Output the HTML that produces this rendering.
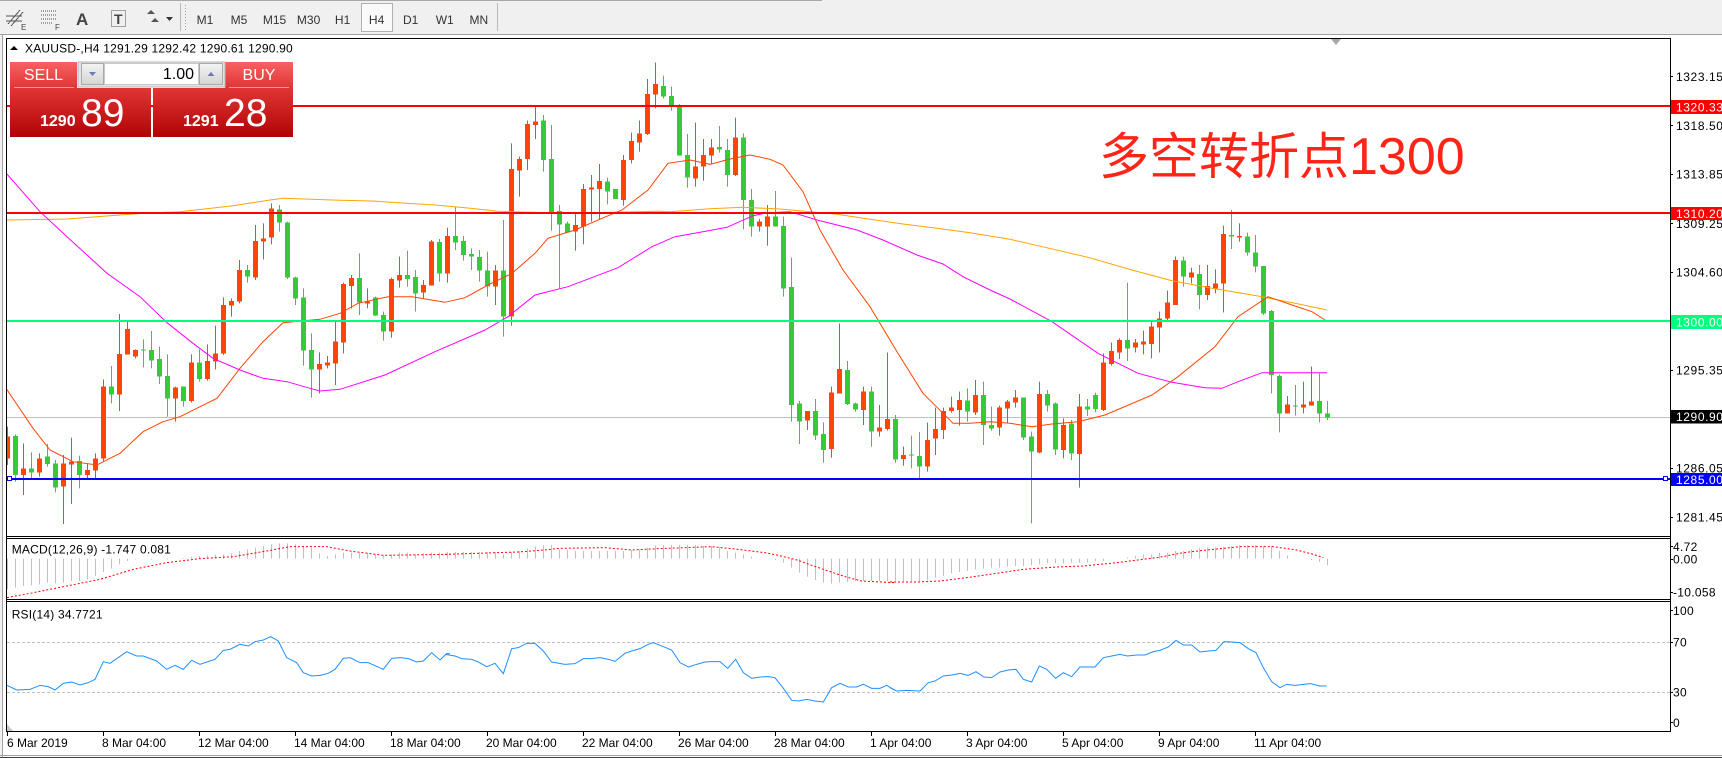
<!DOCTYPE html>
<html><head><meta charset="utf-8"><style>
html,body{margin:0;padding:0;background:#fff;}
svg{display:block;}
text{font-family:"Liberation Sans","Noto Sans CJK SC",sans-serif;}
</style></head><body>
<svg xmlns="http://www.w3.org/2000/svg" width="1722" height="758" viewBox="0 0 1722 758">
<defs>
<clipPath id="plot"><rect x="7" y="39" width="1663" height="497"/></clipPath>
<clipPath id="macd"><rect x="7" y="539" width="1663" height="60"/></clipPath>
<clipPath id="rsi"><rect x="7" y="602" width="1663" height="129"/></clipPath>
<linearGradient id="hdr" x1="0" y1="0" x2="0" y2="1"><stop offset="0" stop-color="#F86262"/><stop offset="1" stop-color="#DE3434"/></linearGradient>
<linearGradient id="big" x1="0" y1="0" x2="0" y2="1"><stop offset="0" stop-color="#E23636"/><stop offset="1" stop-color="#B00404"/></linearGradient>
<linearGradient id="btn" x1="0" y1="0" x2="0" y2="1"><stop offset="0" stop-color="#F4F4F4"/><stop offset="1" stop-color="#D4D4D4"/></linearGradient>
</defs>

<!-- toolbar -->
<rect x="0" y="0" width="1722" height="34" fill="#F0F0F0"/>
<rect x="0" y="0" width="822" height="1" fill="#A8A8A8"/>
<rect x="0" y="34" width="1722" height="1" fill="#A0A0A0"/>
<g stroke="#555" stroke-width="1" fill="none" shape-rendering="crispEdges">
<path d="M8 24L20 10M11 26L23 12M6 16H22M6 21H22"/>
<path d="M41 11H56M41 15H56M41 19H56M41 23H52" stroke-dasharray="1 1"/>
<rect x="111.5" y="10.5" width="14" height="16" stroke-dasharray="1 1"/>
<path d="M180.5 3V31" stroke="#B8B8B8"/>
<path d="M185.5 5V30" stroke="#A0A0A0" stroke-dasharray="1 2"/>
<path d="M497.5 3V31" stroke="#B8B8B8"/>
</g>
<text x="21" y="30" font-size="8" fill="#444">E</text>
<text x="55" y="30" font-size="8" fill="#444">F</text>
<text x="76" y="25" font-size="17" font-weight="bold" fill="#444">A</text>
<text x="114" y="24" font-size="14" font-weight="bold" fill="#444">T</text>
<path d="M147 14l4-4 4 4zM151 22l4-4 4 4zM155 26l4 -4" fill="#555"/>
<path d="M166 17h7l-3.5 4z" fill="#333"/>
<rect x="361.5" y="3.5" width="31" height="28" fill="#FAFAFA" stroke="#B0B0B0"/>
<g font-size="12" fill="#333" text-anchor="middle">
<text x="205" y="24">M1</text><text x="239" y="24">M5</text><text x="274.5" y="24">M15</text><text x="308.6" y="24">M30</text><text x="342.6" y="24">H1</text><text x="376.6" y="24">H4</text><text x="410.7" y="24">D1</text><text x="444.7" y="24">W1</text><text x="478.8" y="24">MN</text>
</g>

<!-- left window edge -->
<rect x="0" y="35" width="3" height="723" fill="#F0F0F0"/>
<rect x="2" y="35" width="1" height="723" fill="#A0A0A0"/>

<!-- RSI levels -->
<g stroke="#C0C0C0" stroke-width="1" stroke-dasharray="3 2" shape-rendering="crispEdges">
<path d="M7 642.5H1670M7 692.5H1670"/>
</g>

<!-- gray current price line -->
<rect x="7" y="417" width="1663" height="1" fill="#C0C0C0"/>

<!-- candles -->
<g clip-path="url(#plot)">
<g transform="translate(0,40) scale(1,0.333333)" fill="none" shape-rendering="crispEdges">
<path stroke="#FF4500" stroke-width="1" d="M7.5 1160V1275M23.5 1210V1365M39.5 1240V1310M63.5 1245V1452M71.5 1193V1392M87.5 1270V1320M95.5 1240V1315M103.5 1018V1265M119.5 822V1113M127.5 843V943M135.5 928V955M175.5 1040V1145M191.5 943V1088M207.5 913V1022M215.5 857V988M223.5 772V945M231.5 775V830M239.5 660V790M255.5 555V720M263.5 550V658M271.5 490V613M319.5 937V1060M327.5 948V985M335.5 845V1035M343.5 728V940M351.5 705V805M367.5 745V805M391.5 713V893M399.5 650V743M423.5 720V775M431.5 600V737M447.5 563V728M495.5 675V795M511.5 310V857M519.5 350V470M527.5 242V390M535.5 195V297M575.5 520V632M583.5 432V613M591.5 405V545M599.5 372V537M623.5 345V497M631.5 278V370M639.5 242V335M647.5 117V285M655.5 68V205M695.5 248V440M703.5 297V422M711.5 297V372M735.5 233V408M759.5 537V575M767.5 495V617M807.5 1113V1170M831.5 1040V1253M839.5 850V1060M863.5 1040V1155M879.5 1095V1190M887.5 938V1172M903.5 1220V1277M927.5 1148V1295M935.5 1103V1245M943.5 1103V1197M951.5 1070V1118M959.5 1055V1157M975.5 1020V1125M999.5 1097V1187M1007.5 1080V1150M1015.5 1050V1103M1039.5 1025V1240M1063.5 1135V1255M1079.5 1062V1343M1103.5 940V1113M1111.5 908V977M1119.5 895V957M1135.5 897V937M1143.5 872V943M1151.5 843V955M1159.5 815V937M1167.5 752V842M1175.5 650V795M1191.5 683V730M1207.5 675V780M1215.5 688V760M1223.5 557V817M1239.5 550V605M1287.5 1068V1120M1303.5 1025V1120M1311.5 980V1097"/>
<path stroke="#FF4500" stroke-width="5" d="M7.5 1190V1255M23.5 1285V1305M39.5 1255V1297M63.5 1270V1340M71.5 1265V1273M87.5 1290V1305M95.5 1255V1292M103.5 1040V1255M119.5 942V1063M127.5 867V943M135.5 930V950M175.5 1042V1075M191.5 967V1083M207.5 963V1017M215.5 940V965M223.5 795V940M231.5 783V797M239.5 690V785M255.5 603V713M263.5 595V605M271.5 505V593M319.5 972V988M327.5 968V977M335.5 905V970M343.5 732V907M351.5 714V738M367.5 785V790M391.5 717V875M399.5 705V722M423.5 735V758M431.5 605V737M447.5 588V700M495.5 692V740M511.5 387V830M519.5 357V392M527.5 252V357M535.5 245V255M575.5 555V575M583.5 447V560M591.5 443V448M599.5 423V447M623.5 360V480M631.5 303V360M639.5 280V308M647.5 162V282M655.5 132V163M695.5 380V415M703.5 345V380M711.5 323V347M735.5 293V405M759.5 545V560M767.5 530V560M807.5 1113V1142M831.5 1058V1227M839.5 987V1060M863.5 1055V1110M879.5 1162V1175M887.5 1137V1167M903.5 1245V1257M927.5 1200V1280M935.5 1167V1196M943.5 1113V1170M951.5 1103V1113M959.5 1080V1110M975.5 1065V1118M999.5 1103V1162M1007.5 1085V1105M1015.5 1073V1088M1039.5 1062V1237M1063.5 1155V1230M1079.5 1100V1242M1103.5 968V1110M1111.5 933V972M1119.5 900V937M1135.5 908V922M1143.5 905V913M1151.5 860V912M1159.5 835V862M1167.5 788V835M1175.5 660V795M1191.5 697V713M1207.5 738V765M1215.5 730V745M1223.5 582V730M1239.5 588V592M1287.5 1093V1120M1303.5 1093V1103M1311.5 1085V1097"/>
<path stroke="#32CD32" stroke-width="1" d="M15.5 1183V1325M31.5 1237V1320M47.5 1212V1280M55.5 1260V1357M79.5 1247V1345M111.5 978V1090M143.5 898V982M151.5 873V985M159.5 920V1032M167.5 943V1130M183.5 1040V1100M199.5 928V1025M247.5 675V728M279.5 495V575M287.5 545V717M295.5 710V795M303.5 745V977M311.5 880V1073M359.5 640V825M375.5 770V828M383.5 815V902M407.5 632V740M415.5 690V815M439.5 597V725M455.5 500V630M463.5 588V662M471.5 625V690M479.5 630V725M487.5 635V770M503.5 540V890M543.5 225V395M551.5 255V572M559.5 495V745M567.5 545V577M607.5 413V493M615.5 447V477M663.5 107V175M671.5 140V212M679.5 192V347M687.5 282V443M719.5 258V338M727.5 297V440M743.5 280V568M751.5 447V590M775.5 453V560M783.5 530V770M791.5 653V1145M799.5 1083V1212M815.5 1077V1200M823.5 1147V1268M847.5 963V1095M855.5 1088V1115M871.5 1040V1220M895.5 1125V1268M911.5 1187V1285M919.5 1176V1315M967.5 1045V1145M983.5 1025V1215M991.5 1100V1172M1023.5 1073V1200M1031.5 1175V1450M1047.5 1050V1115M1055.5 1087V1245M1071.5 1140V1260M1087.5 1077V1128M1095.5 1058V1117M1127.5 728V963M1183.5 650V740M1199.5 675V808M1231.5 510V627M1247.5 578V647M1255.5 585V697M1263.5 678V825M1271.5 810V1060M1279.5 1003V1177M1295.5 1035V1127M1319.5 1000V1147M1327.5 1083V1140"/>
<path stroke="#32CD32" stroke-width="5" d="M15.5 1188V1305M31.5 1285V1298M47.5 1250V1272M55.5 1270V1342M79.5 1263V1305M111.5 1040V1063M143.5 928V932M151.5 930V962M159.5 957V1010M167.5 1008V1075M183.5 1040V1083M199.5 967V1017M247.5 690V710M279.5 508V548M287.5 547V713M295.5 712V775M303.5 772V932M311.5 930V988M359.5 714V788M375.5 773V827M383.5 825V875M407.5 705V717M415.5 711V760M439.5 606V700M455.5 588V608M463.5 603V645M471.5 642V650M479.5 651V692M487.5 692V740M503.5 692V830M543.5 242V360M551.5 357V517M559.5 513V553M567.5 550V577M607.5 425V455M615.5 447V477M663.5 138V170M671.5 168V197M679.5 197V347M687.5 345V413M719.5 321V329M727.5 330V405M743.5 293V480M751.5 480V560M775.5 530V560M783.5 558V746M791.5 741V1095M799.5 1090V1145M815.5 1113V1187M823.5 1182V1230M847.5 990V1092M855.5 1090V1108M871.5 1055V1175M895.5 1137V1258M911.5 1244V1247M919.5 1248V1280M967.5 1082V1115M983.5 1065V1155M991.5 1155V1165M1023.5 1073V1192M1031.5 1190V1235M1047.5 1062V1097M1055.5 1090V1228M1071.5 1150V1240M1087.5 1100V1108M1095.5 1065V1107M1127.5 900V925M1183.5 662V710M1199.5 702V765M1231.5 585V590M1247.5 590V638M1255.5 637V680M1263.5 678V820M1271.5 813V1005M1279.5 1008V1120M1295.5 1097V1100M1319.5 1083V1120M1327.5 1120V1133"/>
</g>

<!-- moving averages -->
<g fill="none" stroke-width="1">
<polyline stroke="#FFA500" points="6,220 67,219 147,213 180,211.7 233,205.7 270,200 283,198.3 340,200.3 372,201 402,203 435,205 468,208 498,211.3 540,212.5 600,212.5 658,211.3 670,211.7 710,208.7 743,207.3 780,209 810,211.7 837,214.3 870,219.3 903,224 937,228.3 970,232.7 1010,239.3 1045,247.3 1088,257.3 1132,270 1172,280.7 1212,288.3 1258,296 1295,303.3 1327,310"/>
<polyline stroke="#FF00FF" points="6,173 40,211.7 67,236.7 107,273.3 140,296.7 167,322.7 193,343.3 213,358.3 240,370 263,378.3 287,381.7 310,388.3 320,391 340,389.3 385,375 435,351.7 485,330 508,316.7 535,295 568,286.7 618,267.7 652,246.7 675,236.7 703,231.7 727,227.3 753,215.7 767,212.7 790,211.7 817,220 857,230 883,240 917,255 943,264 963,276.7 990,290 1010,299 1052,321.7 1098,353.3 1138,373.3 1172,382.3 1205,387.7 1222,388.3 1238,381.7 1262,372.7 1327,372.7"/>
<polyline stroke="#FF4500" points="6,388.3 33,428.3 50,450 73,461.7 97,465 110,458.3 120,453.3 143,431.7 163,421.7 180,416.7 200,406.7 217,398.3 240,368.3 263,341.7 283,322.7 320,319.3 340,313.3 358,303.3 388,296.7 412,296.7 445,302.3 465,297.7 488,285 512,273.3 535,253.3 548,238.3 575,230 602,218.3 622,210 648,190 668,163.3 690,160 710,164.3 730,159 750,155 770,159.3 783,165 803,191.7 820,230 843,270 870,306.7 897,351.7 923,393.3 953,423.3 970,423.3 990,421.7 1010,423.3 1032,426.7 1052,424 1078,421.7 1105,415 1152,395 1178,376.7 1215,346.7 1238,316.7 1268,296.7 1292,305 1312,311.7 1325,320"/>
</g>

<!-- horizontal lines -->
<rect x="7" y="105" width="1663" height="2" fill="#FF0000"/>
<rect x="7" y="212" width="1663" height="2" fill="#FF0000"/>
<rect x="7" y="320" width="1663" height="2" fill="#00FF7F"/>
<rect x="7" y="478" width="1663" height="2" fill="#0000FF"/>
<rect x="7.5" y="476.5" width="4" height="4" fill="#fff" stroke="#0000FF" stroke-width="1"/>
<rect x="1663.5" y="476.5" width="4" height="4" fill="#fff" stroke="#0000FF" stroke-width="1"/>
</g>

<!-- chart shift marker -->
<polygon points="1331,39 1341,39 1336,45" fill="#A8A8A8"/>

<!-- annotation -->
<text x="1099" y="174" font-size="50" fill="#FF2418">多空转折点<tspan font-size="52">1300</tspan></text>

<!-- header -->
<polygon points="10,50 18,50 14,46" fill="#000"/>
<text x="25" y="52.6" font-size="12" letter-spacing="0.2" fill="#000">XAUUSD-,H4  1291.29 1292.42 1290.61 1290.90</text>

<!-- trade panel -->
<rect x="10" y="62" width="67" height="27" fill="url(#hdr)"/>
<rect x="225" y="62" width="68" height="27" fill="url(#hdr)"/>
<rect x="10" y="88" width="141" height="49" fill="url(#big)"/>
<rect x="153" y="88" width="140" height="49" fill="url(#big)"/>
<rect x="14" y="87" width="60" height="1" fill="#F29A9A"/>
<rect x="229" y="87" width="60" height="1" fill="#F29A9A"/>
<rect x="78" y="62" width="147" height="25" fill="#E4E4E4" stroke="#B8B8B8" stroke-width="1"/>
<rect x="81.5" y="63.5" width="22" height="21" fill="url(#btn)" stroke="#A8A8A8"/>
<rect x="104.5" y="63.5" width="94" height="21" fill="#fff" stroke="#C8C8C8"/>
<rect x="199.5" y="63.5" width="23" height="21" fill="url(#btn)" stroke="#A8A8A8"/>
<path d="M89 72h7l-3.5 4z" fill="#6A7AB0"/>
<path d="M207.5 76h7l-3.5-4z" fill="#6A7AB0"/>
<text x="43.5" y="80" font-size="16" fill="#fff" text-anchor="middle">SELL</text>
<text x="259" y="80" font-size="16" fill="#fff" text-anchor="middle">BUY</text>
<text x="194" y="79" font-size="16" fill="#000" text-anchor="end">1.00</text>
<text x="40" y="126" font-size="16" font-weight="bold" fill="#fff">1290</text>
<text x="81" y="126" font-size="39" fill="#fff">89</text>
<text x="183" y="126" font-size="16" font-weight="bold" fill="#fff">1291</text>
<text x="224" y="126" font-size="39" fill="#fff">28</text>

<!-- MACD -->
<g clip-path="url(#macd)">
<g transform="translate(0,536) scale(1,0.333333)" shape-rendering="crispEdges">
<path fill="none" stroke="#C0C0C0" stroke-width="1" d="M7.5 68V160M15.5 68V155M23.5 68V150M31.5 68V148M39.5 68V145M47.5 68V140M55.5 68V142M63.5 68V140M71.5 68V135M79.5 68V135M87.5 68V130M95.5 68V120M103.5 68V108M111.5 68V98M119.5 68V85M127.5 68V75M135.5 68V70M151.5 68V71M167.5 68V71M183.5 68V66M191.5 68V62M199.5 68V60M207.5 68V58M215.5 68V56M223.5 68V55M231.5 68V52M239.5 68V45M247.5 68V40M255.5 68V35M263.5 68V30M271.5 68V25M279.5 68V22M287.5 68V22M295.5 68V25M303.5 68V30M311.5 68V35M319.5 68V52M327.5 68V60M335.5 68V55M343.5 68V50M351.5 68V50M359.5 68V50M367.5 68V50M375.5 68V55M383.5 68V58M391.5 68V55M399.5 68V50M407.5 68V50M415.5 68V55M423.5 68V52M431.5 68V50M439.5 68V50M447.5 68V48M455.5 68V48M463.5 68V48M471.5 68V48M479.5 68V48M487.5 68V48M495.5 68V48M503.5 68V55M511.5 68V48M519.5 68V45M527.5 68V38M535.5 68V32M543.5 68V27M551.5 68V27M559.5 68V40M567.5 68V42M575.5 68V45M583.5 68V45M591.5 68V45M599.5 68V45M607.5 68V45M615.5 68V45M623.5 68V45M631.5 68V42M639.5 68V40M647.5 68V35M655.5 68V28M663.5 68V27M671.5 68V27M679.5 68V27M687.5 68V27M695.5 68V27M703.5 68V30M711.5 68V30M719.5 68V35M727.5 68V45M735.5 68V50M743.5 68V55M751.5 68V62M775.5 68V72M783.5 68V80M791.5 68V95M799.5 68V110M807.5 68V122M815.5 68V132M823.5 68V140M831.5 68V143M839.5 68V140M847.5 68V138M855.5 68V135M863.5 68V135M871.5 68V135M879.5 68V135M887.5 68V135M895.5 68V135M903.5 68V135M911.5 68V135M919.5 68V135M927.5 68V132M935.5 68V125M943.5 68V120M951.5 68V112M959.5 68V108M967.5 68V105M975.5 68V100M983.5 68V98M991.5 68V95M999.5 68V95M1007.5 68V92M1015.5 68V90M1023.5 68V90M1031.5 68V88M1039.5 68V85M1047.5 68V82M1055.5 68V82M1063.5 68V82M1071.5 68V80M1079.5 68V80M1087.5 68V80M1095.5 68V75M1103.5 68V75M1127.5 68V65M1135.5 68V60M1143.5 68V55M1151.5 68V55M1159.5 68V50M1167.5 68V50M1175.5 68V45M1183.5 68V45M1191.5 68V40M1199.5 68V35M1207.5 68V35M1215.5 68V35M1223.5 68V33M1231.5 68V30M1239.5 68V28M1247.5 68V28M1255.5 68V28M1263.5 68V30M1271.5 68V30M1279.5 68V45M1287.5 68V58M1311.5 68V72M1319.5 68V78M1327.5 68V88"/>
</g>
<g fill="none" stroke="#FF0000" stroke-width="3" stroke-dasharray="6 6">
<polyline transform="translate(0,536) scale(0.333333)" points="21,185 100,170 200,150 300,130 400,100 500,80 600,68 700,62 800,45 870,32 980,32 1050,45 1150,58 1350,55"/>
<polyline transform="translate(445,536) scale(0.333333)" points="0,55 220,48 300,42 340,37 480,35 560,42 640,38 800,32 880,40 960,50 1000,58 1060,73 1100,88 1150,105 1200,122 1250,135 1350,140"/>
<polyline transform="translate(890,536) scale(0.333333)" points="0,138 80,138 150,135 230,125 300,115 400,100 500,93 580,90 680,80 800,65 880,50 950,42 1000,37 1050,32 1150,32 1220,42 1270,55 1300,65"/>
</g>
</g>
<text x="11.7" y="553.6" font-size="12" letter-spacing="0.2" fill="#000">MACD(12,26,9) -1.747 0.081</text>

<!-- RSI -->
<g clip-path="url(#rsi)" fill="none" stroke="#1E90FF" stroke-width="3">
<polyline transform="translate(0,536) scale(0.333333)" points="21,448 50,462 90,460 120,448 145,452 165,462 190,442 215,438 240,447 265,440 285,430 310,377 330,382 380,347 410,360 430,360 470,375 500,400 525,388 550,400 575,373 600,385 630,375 645,370 670,343 690,340 720,325 745,330 765,317 790,312 812,302 835,315 860,365 890,380 910,410 935,420 960,418 985,412 1005,400 1030,367 1050,365 1080,380 1105,380 1150,400 1175,367 1200,365 1225,368 1250,378 1270,375 1295,350 1320,372 1340,353 1350,353"/>
<polyline transform="translate(445,536) scale(0.333333)" points="0,355 30,360 50,368 80,370 100,378 125,392 150,382 175,413 200,338 220,335 245,322 270,322 295,345 320,378 360,385 390,383 415,368 440,368 465,365 490,370 510,376 540,352 560,345 585,338 610,325 625,320 655,332 680,342 705,380 730,393 755,385 780,378 800,377 825,377 848,397 872,370 895,410 920,427 945,423 970,422 990,425 1015,457 1040,493 1060,495 1085,490 1110,495 1135,498 1160,455 1185,442 1210,453 1235,453 1255,445 1280,457 1305,457 1325,448 1350,463"/>
<polyline transform="translate(890,536) scale(0.333333)" points="0,455 20,465 50,463 90,465 115,440 135,435 160,420 185,417 210,412 235,418 258,407 282,423 305,425 330,408 355,402 378,400 400,430 425,438 448,390 470,400 497,427 520,410 545,422 570,393 615,393 640,365 665,360 690,355 712,360 740,357 765,357 790,347 810,343 835,333 858,313 880,327 905,327 930,348 955,345 978,343 1002,317 1026,318 1050,320 1075,338 1098,350 1120,395 1145,437 1170,455 1190,445 1215,448 1240,445 1262,443 1290,450 1310,450"/>
</g>
<text x="11.7" y="618.6" font-size="12" letter-spacing="0.2" fill="#000">RSI(14) 34.7721</text>
<polygon points="7,724 7,731 13,731" fill="#C8C8C8"/>

<!-- frames -->
<g stroke="#000" stroke-width="1" fill="none" shape-rendering="crispEdges">
<path d="M6 38.5H1671M6.5 38V732M1670.5 38V732M6 536.5H1671M6 538.5H1671M6 599.5H1671M6 601.5H1671M6 731.5H1671"/>
<path d="M1670 76.5h3M1670 125.5h3M1670 174.5h3M1670 223.5h3M1670 272.5h3M1670 370.5h3M1670 468.5h3M1670 517.5h3M1670 546.5h3M1670 559.5h3M1670 592.5h3M1670 610.5h3M1670 642.5h3M1670 692.5h3M1670 722.5h3"/>
<path d="M7.5 731V736M103.5 731V736M199.5 731V736M295.5 731V736M391.5 731V736M487.5 731V736M583.5 731V736M679.5 731V736M775.5 731V736M871.5 731V736M967.5 731V736M1063.5 731V736M1159.5 731V736M1255.5 731V736"/>
</g>
<rect x="0" y="755" width="1722" height="1" fill="#A0A0A0"/>
<rect x="0" y="757" width="1722" height="1" fill="#404040"/>

<!-- price axis labels -->
<g font-size="12" letter-spacing="0.6" fill="#000">
<text x="1676" y="81">1323.15</text>
<text x="1676" y="130">1318.50</text>
<text x="1676" y="178.3">1313.85</text>
<text x="1676" y="227.8">1309.25</text>
<text x="1676" y="276.6">1304.60</text>
<text x="1676" y="374.3">1295.35</text>
<text x="1676" y="472.6">1286.05</text>
<text x="1676" y="521.3">1281.45</text>
</g>
<rect x="1671" y="100" width="51" height="14" fill="#FF0000"/>
<rect x="1671" y="207" width="51" height="13" fill="#FF0000"/>
<rect x="1671" y="315" width="51" height="14" fill="#00FF7F"/>
<rect x="1671" y="410" width="51" height="13.5" fill="#000"/>
<rect x="1671" y="473" width="51" height="13" fill="#0000FF"/>
<g font-size="12" letter-spacing="0.6" fill="#fff">
<text x="1676" y="111.5">1320.33</text>
<text x="1676" y="218">1310.20</text>
<text x="1676" y="326.3">1300.00</text>
<text x="1676" y="421">1290.90</text>
<text x="1676" y="484">1285.00</text>
</g>
<g font-size="12" letter-spacing="0.3" fill="#000">
<text x="1673" y="551">4.72</text>
<text x="1673" y="563.3">0.00</text>
<text x="1673" y="596.6">-10.058</text>
<text x="1673" y="615">100</text>
<text x="1673" y="646.6">70</text>
<text x="1673" y="696.6">30</text>
<text x="1673" y="727">0</text>
</g>

<!-- date axis -->
<g font-size="12" fill="#000">
<text x="7" y="747">6 Mar 2019</text>
<text x="102" y="747">8 Mar 04:00</text>
<text x="198" y="747">12 Mar 04:00</text>
<text x="294" y="747">14 Mar 04:00</text>
<text x="390" y="747">18 Mar 04:00</text>
<text x="486" y="747">20 Mar 04:00</text>
<text x="582" y="747">22 Mar 04:00</text>
<text x="678" y="747">26 Mar 04:00</text>
<text x="774" y="747">28 Mar 04:00</text>
<text x="870" y="747">1 Apr 04:00</text>
<text x="966" y="747">3 Apr 04:00</text>
<text x="1062" y="747">5 Apr 04:00</text>
<text x="1158" y="747">9 Apr 04:00</text>
<text x="1254" y="747">11 Apr 04:00</text>
</g>
</svg>
</body></html>
